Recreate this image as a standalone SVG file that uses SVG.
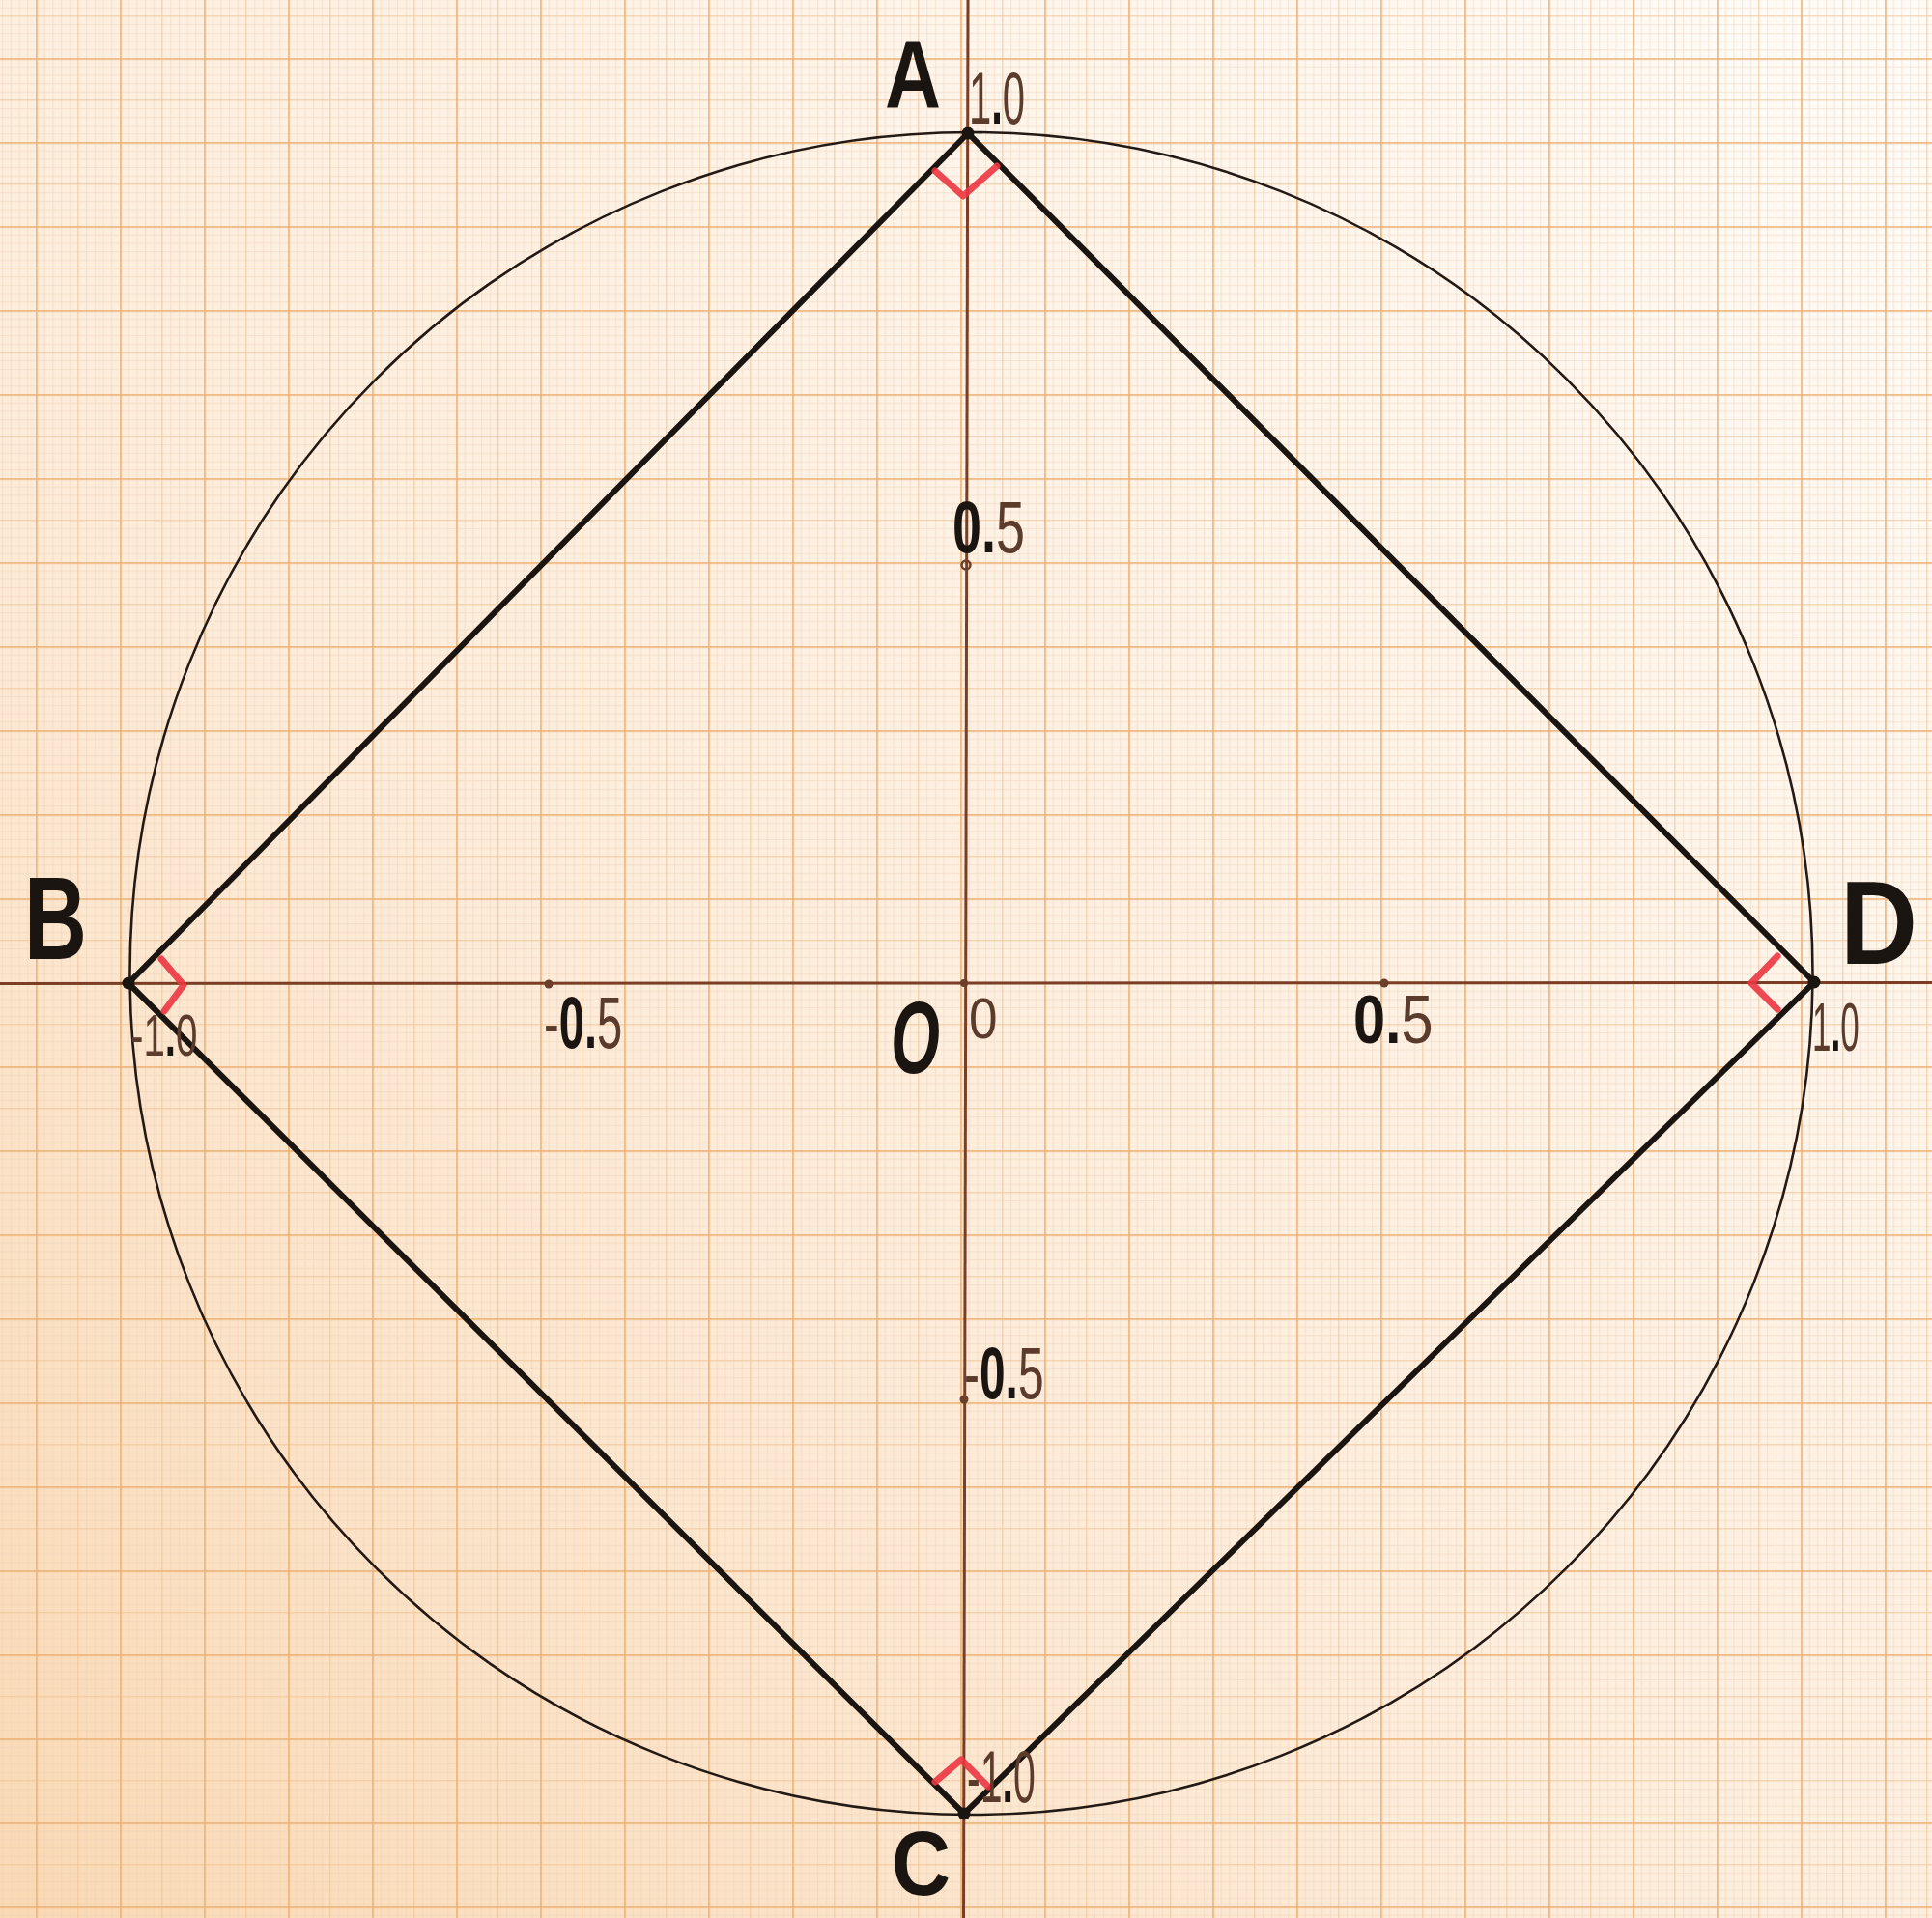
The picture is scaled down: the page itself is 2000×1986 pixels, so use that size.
<svg xmlns="http://www.w3.org/2000/svg" width="2000" height="1986" viewBox="0 0 2000 1986">
<defs>
<linearGradient id="paper" x1="0" y1="1" x2="1" y2="0">
<stop offset="0" stop-color="#fad9b4"/>
<stop offset="0.4" stop-color="#fdecda"/>
<stop offset="1" stop-color="#fffcf8"/>
</linearGradient>
<pattern id="grid" x="37.2" y="60.2" width="87" height="87" patternUnits="userSpaceOnUse">
<g fill="#e9cdb4" opacity="0.6">
<rect x="8.7" y="0" width="0.8" height="87"/><rect x="17.4" y="0" width="0.8" height="87"/><rect x="26.1" y="0" width="0.8" height="87"/><rect x="34.8" y="0" width="0.8" height="87"/><rect x="52.2" y="0" width="0.8" height="87"/><rect x="60.9" y="0" width="0.8" height="87"/><rect x="69.6" y="0" width="0.8" height="87"/><rect x="78.3" y="0" width="0.8" height="87"/>
<rect y="8.7" x="0" height="0.8" width="87"/><rect y="17.4" x="0" height="0.8" width="87"/><rect y="26.1" x="0" height="0.8" width="87"/><rect y="34.8" x="0" height="0.8" width="87"/><rect y="52.2" x="0" height="0.8" width="87"/><rect y="60.9" x="0" height="0.8" width="87"/><rect y="69.6" x="0" height="0.8" width="87"/><rect y="78.3" x="0" height="0.8" width="87"/>
</g>
<g fill="#efc396" opacity="0.85">
<rect x="43.1" y="0" width="1.1" height="87"/><rect y="43.1" x="0" height="1.1" width="87"/>
</g>
<g fill="#ebb073">
<rect x="0" y="0" width="1.6" height="87"/><rect x="0" y="0" height="1.6" width="87"/>
</g>
</pattern>
<style>
.ink{stroke:#1b1512;fill:none;stroke-linecap:round;stroke-linejoin:round}
.sq{stroke-width:6}
.circ{stroke-width:2.6;stroke:#241a15}
.axis{stroke:#7a3d25;stroke-width:3;fill:none}
.red{stroke:#ec3541;stroke-width:7;fill:none;stroke-linecap:round;stroke-linejoin:round;opacity:0.9}
.vdot{fill:#1b1512}
.adot{fill:#6b3f2a}
.lbl{font-family:"Liberation Sans",Arial,sans-serif;font-weight:bold;fill:#1b1512}
.num{font-family:"Liberation Sans",Arial,sans-serif;font-weight:normal;fill:#5a3b2c}
.bk{fill:#1b1512;font-weight:bold}
</style>
</defs>
<rect width="2000" height="1986" fill="url(#paper)"/>
<rect width="2000" height="1986" fill="url(#grid)"/>

<g id="axes">
<line class="axis" x1="0" y1="1018.5" x2="2000" y2="1017.5"/>
<line class="axis" x1="1002" y1="0" x2="997.5" y2="1986"/>
<circle class="adot" cx="568" cy="1019" r="4.5"/>
<circle class="adot" cx="1433" cy="1018" r="4.5"/>
<circle cx="1000" cy="585" r="4.5" fill="none" stroke="#6b3f2a" stroke-width="2.5"/>
<circle class="adot" cx="998" cy="1449" r="4.5"/>
<circle class="adot" cx="998" cy="1018" r="4"/>
</g>

<g id="circle">
<circle class="ink circ" cx="1005.5" cy="1008" r="871"/>
</g>

<g id="connectors">
<line class="ink sq" x1="1002" y1="138" x2="133" y2="1018"/>
<line class="ink sq" x1="133" y1="1018" x2="998" y2="1878"/>
<line class="ink sq" x1="998" y1="1878" x2="1878" y2="1017"/>
<line class="ink sq" x1="1878" y1="1017" x2="1002" y2="138"/>
</g>

<g id="node-A">
<circle class="vdot" cx="1002" cy="138" r="6.5"/>
<path class="red" d="M968,177 L997,203 L1032,172"/>
<text class="lbl" x="916" y="112" font-size="100" textLength="58" lengthAdjust="spacingAndGlyphs">A</text>
</g>
<g id="node-B">
<circle class="vdot" cx="133" cy="1018" r="6.5"/>
<path class="red" d="M167,993 L190,1020 L170,1047"/>
<text class="lbl" x="25" y="993" font-size="123" textLength="65" lengthAdjust="spacingAndGlyphs">B</text>
</g>
<g id="node-C">
<circle class="vdot" cx="998" cy="1878" r="6.5"/>
<path class="red" d="M968,1845 L995,1822 L1023,1850"/>
<text class="lbl" x="923" y="1962" font-size="94" textLength="61" lengthAdjust="spacingAndGlyphs">C</text>
</g>
<g id="node-D">
<circle class="vdot" cx="1878" cy="1017" r="6.5"/>
<path class="red" d="M1840,990 L1813,1018 L1840,1045"/>
<text class="lbl" x="1905" y="998" font-size="123" textLength="80" lengthAdjust="spacingAndGlyphs">D</text>
</g>
<g id="node-O">
<text class="lbl" x="922" y="1111" font-size="105" font-style="italic" textLength="51" lengthAdjust="spacingAndGlyphs">O</text>
</g>

<g id="axis-labels">
<text class="num" font-size="76" transform="translate(1003,128) scale(0.55,1)">1<tspan class="bk">.</tspan>0</text>
<text class="num" font-size="62" transform="translate(135,1093) scale(0.65,1)">-1<tspan class="bk">.</tspan>0</text>
<text class="num" font-size="70" transform="translate(1876,1088) scale(0.5,1)">1<tspan class="bk">.</tspan>0</text>
<text class="num" font-size="76" transform="translate(1001,1866) scale(0.54,1)">-1<tspan class="bk">.</tspan>0</text>
<text class="num" font-size="59" transform="translate(1003,1075) scale(0.9,1)">0</text>
<text class="num" font-size="76" transform="translate(986,572) scale(0.71,1)"><tspan class="bk">0.</tspan>5</text>
<text class="num" font-size="76" transform="translate(563,1085) scale(0.62,1)">-<tspan class="bk">0.</tspan>5</text>
<text class="num" font-size="70" transform="translate(1401,1080) scale(0.85,1)"><tspan class="bk">0.</tspan>5</text>
<text class="num" font-size="76" transform="translate(998,1448) scale(0.63,1)">-<tspan class="bk">0.</tspan>5</text>
</g>
</svg>
